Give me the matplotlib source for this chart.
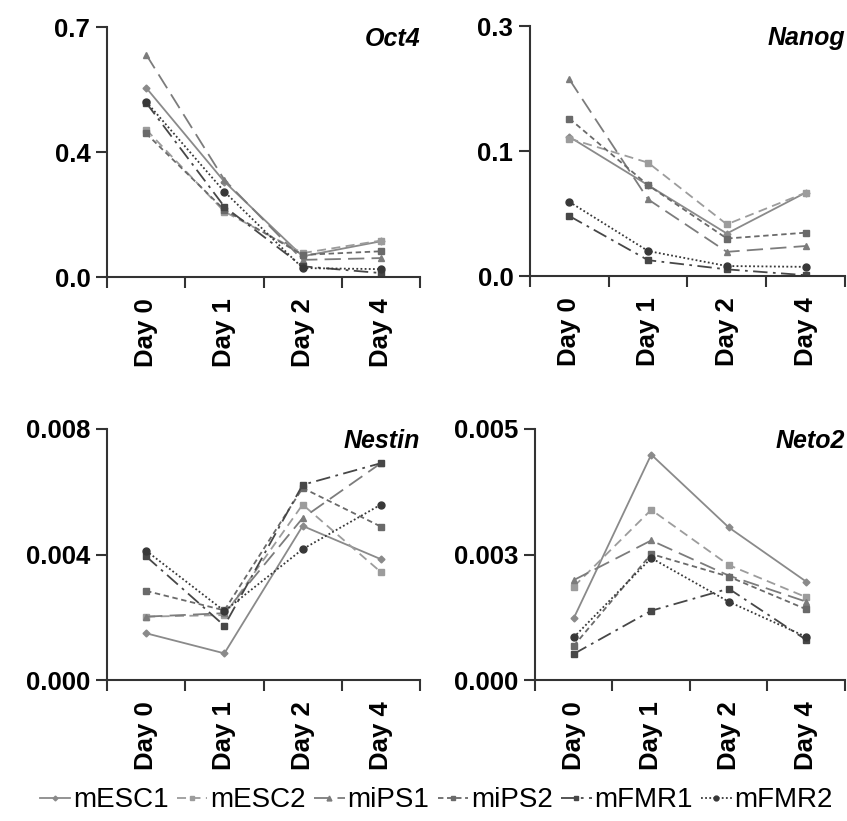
import matplotlib
matplotlib.use('Agg')
import matplotlib.pyplot as plt

plt.rcParams['font.family'] = ['Liberation Sans', 'DejaVu Sans']

days = ['Day 0', 'Day 1', 'Day 2', 'Day 4']
lines = ['mESC1', 'mESC2', 'miPS1', 'miPS2', 'mFMR1', 'mFMR2']

# expression values per gene, per cell line (Day 0, 1, 2, 4)
oct4 = {
    'mESC1': [0.530, 0.267, 0.058, 0.100],
    'mESC2': [0.413, 0.183, 0.067, 0.102],
    'miPS1': [0.623, 0.272, 0.048, 0.053],
    'miPS2': [0.402, 0.188, 0.062, 0.072],
    'mFMR1': [0.488, 0.197, 0.030, 0.011],
    'mFMR2': [0.491, 0.239, 0.025, 0.022],
}
nanog = {
    'mESC1': [0.167, 0.109, 0.051, 0.100],
    'mESC2': [0.165, 0.136, 0.062, 0.100],
    'miPS1': [0.236, 0.092, 0.029, 0.036],
    'miPS2': [0.189, 0.109, 0.045, 0.052],
    'mFMR1': [0.072, 0.019, 0.008, 0.001],
    'mFMR2': [0.089, 0.030, 0.012, 0.011],
}
nestin = {
    'mESC1': [0.00149, 0.00085, 0.00491, 0.00385],
    'mESC2': [0.00202, 0.00207, 0.00559, 0.00344],
    'miPS1': [0.00202, 0.00213, 0.00516, 0.00691],
    'miPS2': [0.00284, 0.00222, 0.00612, 0.00489],
    'mFMR1': [0.00394, 0.00173, 0.00622, 0.00691],
    'mFMR2': [0.00412, 0.00220, 0.00417, 0.00559],
}
neto2 = {
    'mESC1': [0.00123, 0.00449, 0.00304, 0.00196],
    'mESC2': [0.00186, 0.00339, 0.00229, 0.00165],
    'miPS1': [0.00199, 0.00278, 0.00208, 0.00156],
    'miPS2': [0.00068, 0.00251, 0.00206, 0.00141],
    'mFMR1': [0.00052, 0.00138, 0.00182, 0.00080],
    'mFMR2': [0.00085, 0.00243, 0.00156, 0.00086],
}

genes = ['Oct4', 'Nanog', 'Nestin', 'Neto2']
gene_data = [oct4, nanog, nestin, neto2]
y_max = [0.7, 0.3, 0.008, 0.005]
y_labels = [['0.0', '0.4', '0.7'], ['0.0', '0.1', '0.3'],
            ['0.000', '0.004', '0.008'], ['0.000', '0.003', '0.005']]

styles = {
    'mESC1': dict(color='#8a8a8a', ls='-', marker='D', ms=3.5),
    'mESC2': dict(color='#9c9c9c', ls=(0, (5, 3)), marker='s', ms=4.5),
    'miPS1': dict(color='#7c7c7c', ls=(0, (9, 4)), marker='^', ms=5),
    'miPS2': dict(color='#6a6a6a', ls=(0, (3, 2)), marker='s', ms=4),
    'mFMR1': dict(color='#474747', ls=(0, (8, 3, 1.5, 3)), marker='s', ms=4),
    'mFMR2': dict(color='#383838', ls=(0, (1, 1.3)), marker='o', ms=5),
}

positions = [
    [0.1263, 0.6626, 0.3696, 0.3045],
    [0.6257, 0.6638, 0.3719, 0.3045],
    [0.1263, 0.1717, 0.3696, 0.3058],
    [0.6316, 0.1717, 0.3660, 0.3058],
]

fig = plt.figure(figsize=(8.47, 8.21), dpi=100)
x = list(range(len(days)))
handles = []
for i, gene in enumerate(genes):
    ax = fig.add_axes(positions[i])
    data = gene_data[i]
    for name in lines:
        st = styles[name]
        h, = ax.plot(x, data[name], color=st['color'], linestyle=st['ls'],
                     linewidth=1.3, marker=st['marker'], markersize=st['ms'],
                     markerfacecolor=st['color'], markeredgecolor=st['color'],
                     label=name)
        if i == 0:
            handles.append(h)
    ax.set_xlim(-0.5, 3.5)
    ax.set_ylim(0, y_max[i])
    ax.set_yticks([0, y_max[i] / 2, y_max[i]], y_labels[i])
    ax.set_xticks([-0.5, 0.5, 1.5, 2.5, 3.5])
    ax.set_xticklabels([])
    ax.set_xticks(x, minor=True)
    ax.set_xticklabels(days, minor=True, rotation=90)
    ax.tick_params(axis='x', which='major', length=8, width=1.5, color='#333333', direction='out')
    ax.tick_params(axis='x', which='minor', length=0, pad=15)
    ax.tick_params(axis='y', length=8, width=1.5, color='#333333', direction='out', pad=4)
    for lab in ax.get_xticklabels(minor=True) + ax.get_yticklabels():
        lab.set_fontsize(18.5)
        lab.set_fontweight('bold')
    for side in ['top', 'right']:
        ax.spines[side].set_visible(False)
    for side in ['left', 'bottom']:
        ax.spines[side].set_linewidth(1.5)
        ax.spines[side].set_color('#333333')
    ax.text(1.0, 1.0, gene, transform=ax.transAxes, ha='right', va='top',
            fontsize=18, style='italic', fontweight='bold')

fig.legend(handles=handles, loc='center', bbox_to_anchor=(0.515, 0.025), ncol=6,
           frameon=False, fontsize=20, handlelength=1.1, handletextpad=0.1,
           columnspacing=0.3, borderpad=0.1, borderaxespad=0.1, markerscale=0.7)

fig.savefig('out.png', dpi=100)
